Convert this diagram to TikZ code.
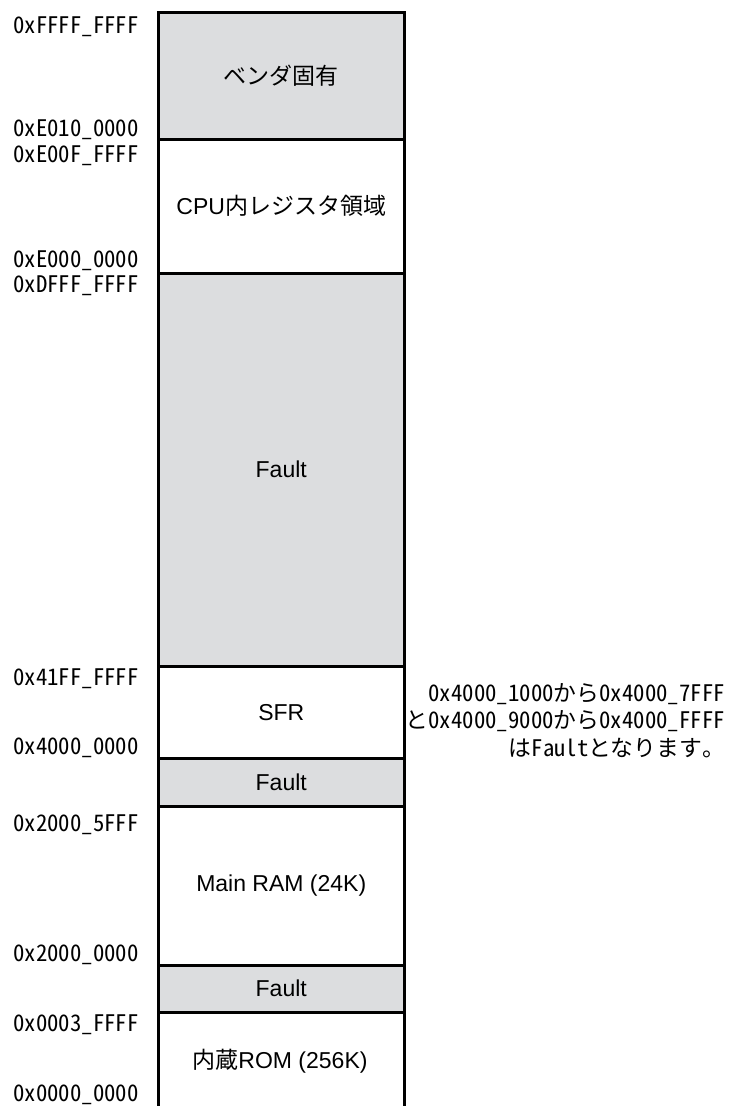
\documentclass[tikz,border=0pt]{standalone}
\usepackage{fontspec}
\setmainfont{Liberation Sans}
\newfontfamily\jp{Noto Sans CJK JP}
\newfontfamily\addrfont[RawFeature=+hwid]{Noto Sans CJK JP}
\definecolor{regiongray}{RGB}{220,221,223}
\begin{document}
\begin{tikzpicture}[x=1pt,y=-1pt,
  region/.style={draw=black,line width=2.5pt,anchor=north west,minimum width=246pt,inner sep=0pt,font=\fontsize{23}{27}\selectfont},
  faultfill/.style={fill=regiongray},
  blocktext/.style={inner sep=0pt,font=\fontsize{23}{27}\selectfont},
  addr/.style={anchor=base west,inner sep=0pt,font=\addrfont\fontsize{22.8}{27}\selectfont},
  note/.style={anchor=base east,inner sep=0pt,font=\addrfont\fontsize{22.8}{27}\selectfont}]
\useasboundingbox (0,0) rectangle (731,1106);
% regions
\node[region,faultfill,minimum height=127pt] (vendor) at (157,11) {\jp ベンダ固有};
\node[region,minimum height=134pt] (cpu) at (157,138) {CPU{\jp 内レジスタ領域}};
\node[region,faultfill,minimum height=393pt] (fault1) at (157,272) {Fault};
\node[region,minimum height=92pt] (sfr) at (157,665) {SFR};
\node[region,faultfill,minimum height=48pt] (fault2) at (157,757) {Fault};
\node[region,minimum height=159pt] (ram) at (157,805) {Main RAM (24K)};
\node[region,faultfill,minimum height=47pt] (fault3) at (157,964) {Fault};
\node[region,minimum height=120pt] (rom) at (157,1011) {};
\node[blocktext] (romtext) at (280,1061) {{\jp 内蔵}ROM (256K)};
% address labels
\node[addr] (a1) at (13,33) {0xFFFF\_FFFF};
\node[addr] (a2) at (13,136) {0xE010\_0000};
\node[addr] (a3) at (13,162) {0xE00F\_FFFF};
\node[addr] (a4) at (13,267) {0xE000\_0000};
\node[addr] (a5) at (13,292) {0xDFFF\_FFFF};
\node[addr] (a6) at (13,685) {0x41FF\_FFFF};
\node[addr] (a7) at (13,754) {0x4000\_0000};
\node[addr] (a8) at (13,831) {0x2000\_5FFF};
\node[addr] (a9) at (13,961) {0x2000\_0000};
\node[addr] (a10) at (13,1031) {0x0003\_FFFF};
\node[addr] (a11) at (13,1101) {0x0000\_0000};
% note
\node[note] (n1) at (725,701) {0x4000\_1000から0x4000\_7FFF};
\node[note] (n2) at (725,728) {と0x4000\_9000から0x4000\_FFFF};
\node[note] (n3) at (725,756) {はFaultとなります{\jp 。}};
\end{tikzpicture}
\end{document}
